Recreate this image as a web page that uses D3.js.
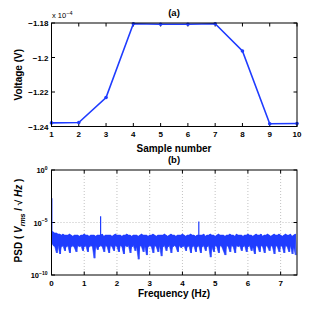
<!DOCTYPE html>
<html>
<head>
<meta charset="utf-8">
<script src="https://cdn.jsdelivr.net/npm/d3@7"></script>
<style>
  body { margin: 0; background: #fff; }
  svg { font-family: "Liberation Sans", Arial, sans-serif; font-weight: bold; }
</style>
</head>
<body>
<svg width="320" height="310"></svg>
<script>
const blue = "#1f3cff";

// (a) voltage per sample, in units of 1e-4 V
const samples = [1, 2, 3, 4, 5, 6, 7, 8, 9, 10];
const voltage = [-1.2379, -1.2377, -1.2232, -1.1804, -1.1807, -1.1807, -1.1804, -1.1962, -1.2384, -1.2383];
const voltTicks = [-1.18, -1.2, -1.22, -1.24];

// (b) PSD band, log10 values, one pair per 0.05 Hz bin
const psdStep = 0.05;
const psdHigh = [
  -5.8,-5.9,-6.0,-6.0,-6.1,-6.1,-6.2,-6.1,-6.2,-6.2,
  -6.2,-6.1,-6.2,-6.3,-6.2,-6.2,-6.2,-6.3,-6.2,-6.2,
  -6.1,-6.2,-6.2,-6.3,-6.2,-6.2,-6.2,-6.3,-6.2,-6.2,
  -6.2,-6.1,-6.3,-6.2,-6.2,-6.2,-6.2,-6.3,-6.2,-6.1,
  -6.2,-6.2,-6.2,-6.3,-6.2,-6.2,-6.1,-6.2,-6.2,-6.3,
  -6.2,-6.2,-6.2,-6.3,-6.2,-6.1,-6.2,-6.2,-6.2,-6.3,
  -6.2,-6.2,-6.1,-6.2,-6.3,-6.2,-6.2,-6.2,-6.2,-6.1,
  -6.2,-6.3,-6.2,-6.1,-6.2,-6.2,-6.3,-6.2,-6.2,-6.2,
  -6.1,-6.2,-6.3,-6.2,-6.2,-6.1,-6.2,-6.2,-6.3,-6.2,
  -6.2,-6.2,-6.2,-6.1,-6.3,-6.2,-6.2,-6.1,-6.2,-6.2,
  -6.3,-6.2,-6.1,-6.2,-6.2,-6.2,-6.3,-6.2,-6.2,-6.1,
  -6.2,-6.2,-6.3,-6.1,-6.2,-6.2,-6.2,-6.3,-6.2,-6.2,
  -6.1,-6.2,-6.2,-6.3,-6.2,-6.1,-6.2,-6.2,-6.1,-6.3,
  -6.2,-6.2,-6.1,-6.2,-6.3,-6.2,-6.1,-6.2,-6.2,-6.1,
  -6.2,-6.3,-6.2,-6.1,-6.2,-6.2,-6.1,-6.3,-6.2,-6.1
];
const psdLow = [
  -6.9,-7.2,-7.3,-7.9,-7.2,-8.0,-7.3,-7.2,-7.7,-7.3,
  -7.2,-7.9,-7.3,-7.2,-7.4,-7.8,-7.2,-7.3,-7.2,-7.7,
  -7.3,-7.2,-7.8,-7.3,-7.2,-7.3,-8.4,-7.2,-7.6,-7.3,
  -7.2,-7.3,-7.8,-7.2,-7.3,-7.9,-7.2,-7.3,-7.7,-7.2,
  -7.3,-7.8,-7.2,-7.3,-8.0,-7.2,-7.3,-7.2,-7.9,-7.3,
  -7.2,-7.7,-7.3,-8.5,-7.2,-7.3,-7.8,-7.2,-8.1,-7.3,
  -7.2,-7.3,-7.9,-7.2,-7.3,-7.8,-7.2,-8.2,-7.3,-7.2,
  -7.7,-7.3,-7.2,-7.9,-7.3,-7.2,-7.3,-7.8,-7.2,-7.4,
  -7.3,-7.2,-7.7,-7.3,-7.2,-7.9,-7.3,-7.2,-7.8,-7.3,
  -7.2,-7.9,-7.3,-7.2,-7.7,-7.3,-7.2,-8.3,-7.3,-7.8,
  -7.2,-7.3,-7.9,-7.2,-7.3,-7.7,-8.1,-7.2,-7.3,-7.8,
  -7.2,-7.3,-7.9,-7.2,-7.3,-7.2,-7.7,-7.3,-7.2,-7.8,
  -7.3,-7.2,-7.7,-7.3,-8.0,-7.2,-7.3,-7.8,-7.2,-7.3,
  -7.9,-7.2,-7.3,-7.7,-7.2,-7.3,-8.0,-7.2,-7.3,-7.8,
  -7.2,-7.3,-7.9,-7.2,-7.3,-7.8,-7.2,-8.0,-7.3,-8.1
];
const peakFreq = [0.01, 1.5, 4.5];
const peakLog = [-2.7, -4.4, -4.9];
const freqTicks = [0, 1, 2, 3, 4, 5, 6, 7];
const psdTicks = [0, -5, -10];

const svg = d3.select("svg");
const left = 51.5, right = 297;

function frame(g, x, y, top, bottom, xTicks, yTicks, grid) {
  const tick = 3.5;
  if (grid) {
    g.selectAll(".gx").data(xTicks.filter(t => t > x.domain()[0] && t < x.domain()[1]))
      .enter().append("line")
      .attr("x1", d => x(d)).attr("x2", d => x(d))
      .attr("y1", top).attr("y2", bottom)
      .attr("stroke", "#999").attr("stroke-width", 0.6).attr("stroke-dasharray", "1,2");
    g.selectAll(".gy").data(yTicks.filter(t => y(t) > top + 1 && y(t) < bottom - 1))
      .enter().append("line")
      .attr("x1", left).attr("x2", right)
      .attr("y1", d => y(d)).attr("y2", d => y(d))
      .attr("stroke", "#999").attr("stroke-width", 0.6).attr("stroke-dasharray", "1,2");
  }
  xTicks.forEach(t => {
    g.append("line").attr("x1", x(t)).attr("x2", x(t)).attr("y1", bottom).attr("y2", bottom - tick).attr("stroke", "#000");
    g.append("line").attr("x1", x(t)).attr("x2", x(t)).attr("y1", top).attr("y2", top + tick).attr("stroke", "#000");
  });
  yTicks.forEach(t => {
    g.append("line").attr("x1", left).attr("x2", left + tick).attr("y1", y(t)).attr("y2", y(t)).attr("stroke", "#000");
    g.append("line").attr("x1", right).attr("x2", right - tick).attr("y1", y(t)).attr("y2", y(t)).attr("stroke", "#000");
  });
}

function box(g, top, bottom) {
  g.append("rect")
    .attr("x", left).attr("y", top)
    .attr("width", right - left).attr("height", bottom - top)
    .attr("fill", "none").attr("stroke", "#000").attr("stroke-width", 1);
}

// ---- (a)
const topA = 23, botA = 126.5;
const xa = d3.scaleLinear().domain([1, 10]).range([left, right]);
const ya = d3.scaleLinear().domain([-1.24, -1.18]).range([botA, topA]);
const ga = svg.append("g");

frame(ga, xa, ya, topA, botA, samples, voltTicks, false);

ga.append("path")
  .datum(samples.map((s, i) => [s, voltage[i]]))
  .attr("d", d3.line().x(d => xa(d[0])).y(d => ya(d[1])))
  .attr("fill", "none").attr("stroke", blue).attr("stroke-width", 1.6);

ga.selectAll(".dot").data(samples)
  .enter().append("circle")
  .attr("cx", d => xa(d)).attr("cy", (d, i) => ya(voltage[i]))
  .attr("r", 1.8).attr("fill", blue);

box(ga, topA, botA);

ga.selectAll(".yl").data(voltTicks).enter().append("text")
  .attr("x", left - 3).attr("y", d => ya(d) + 3)
  .attr("text-anchor", "end").attr("font-size", 8)
  .text(d => d3.format(".2~f")(d).replace("-", "\u2212"));

ga.selectAll(".xl").data(samples).enter().append("text")
  .attr("x", d => xa(d)).attr("y", botA + 10)
  .attr("text-anchor", "middle").attr("font-size", 8)
  .text(d => d);

const mult = ga.append("text").attr("x", 52).attr("y", 18).attr("font-size", 7.5).attr("font-weight", "normal");
mult.append("tspan").text("x 10");
mult.append("tspan").attr("dy", -3.5).attr("font-size", 5.5).text("\u22124");

ga.append("text").attr("x", 174).attr("y", 16).attr("text-anchor", "middle").attr("font-size", 9.5).text("(a)");
ga.append("text").attr("x", 174).attr("y", 151.5).attr("text-anchor", "middle").attr("font-size", 10).text("Sample number");
ga.append("text").attr("transform", `translate(22,${(topA + botA) / 2}) rotate(-90)`)
  .attr("text-anchor", "middle").attr("font-size", 10).text("Voltage (V)");

// ---- (b)
const topB = 170, botB = 275;
const xb = d3.scaleLinear().domain([0, 7.5]).range([left, right]);
const yb = d3.scaleLinear().domain([-10, 0]).range([botB, topB]);
const gb = svg.append("g");

frame(gb, xb, yb, topB, botB, freqTicks, psdTicks, true);

const bins = psdHigh.map((h, i) => ({ f: i * psdStep, hi: h, lo: psdLow[i] }));

gb.append("path")
  .datum(bins)
  .attr("d", d3.area().x(d => xb(d.f)).y0(d => yb(d.lo)).y1(d => yb(d.hi)))
  .attr("fill", blue).attr("stroke", blue).attr("stroke-width", 0.6);

const zig = [];
bins.forEach(d => {
  zig.push([d.f, d.hi]);
  zig.push([d.f + psdStep / 2, d.lo]);
});
gb.append("path")
  .datum(zig)
  .attr("d", d3.line().x(d => xb(d[0])).y(d => yb(d[1])))
  .attr("fill", "none").attr("stroke", blue).attr("stroke-width", 0.8);

gb.selectAll(".peak").data(peakFreq).enter().append("line")
  .attr("x1", d => xb(d)).attr("x2", d => xb(d))
  .attr("y1", (d, i) => yb(peakLog[i])).attr("y2", yb(-6.5))
  .attr("stroke", blue).attr("stroke-width", 1.2);

box(gb, topB, botB);

gb.selectAll(".yl").data(psdTicks).enter().append("text")
  .attr("x", left - 4).attr("y", d => yb(d) + 3)
  .attr("text-anchor", "end").attr("font-size", 7.5)
  .each(function(d) {
    const t = d3.select(this);
    t.append("tspan").text("10");
    t.append("tspan").attr("dy", -3.5).attr("font-size", 5).text(d === 0 ? "0" : "\u2212" + Math.abs(d));
  });

gb.selectAll(".xl").data(freqTicks).enter().append("text")
  .attr("x", d => xb(d)).attr("y", botB + 11)
  .attr("text-anchor", "middle").attr("font-size", 8)
  .text(d => d);

gb.append("text").attr("x", 174).attr("y", 162.5).attr("text-anchor", "middle").attr("font-size", 9.5).text("(b)");
gb.append("text").attr("x", 174).attr("y", 297).attr("text-anchor", "middle").attr("font-size", 10).text("Frequency (Hz)");

const yl = gb.append("text").attr("transform", `translate(22,${(topB + botB) / 2 - 2}) rotate(-90)`)
  .attr("text-anchor", "middle").attr("font-size", 10);
yl.append("tspan").text("PSD  ( ");
yl.append("tspan").attr("font-style", "italic").text("V");
yl.append("tspan").attr("font-style", "italic").attr("font-size", 7).attr("dy", 3).text("rms");
yl.append("tspan").attr("dy", -3).text(" / \u221A ");
yl.append("tspan").attr("font-style", "italic").text("Hz");
yl.append("tspan").text(" )");
</script>
</body>
</html>
